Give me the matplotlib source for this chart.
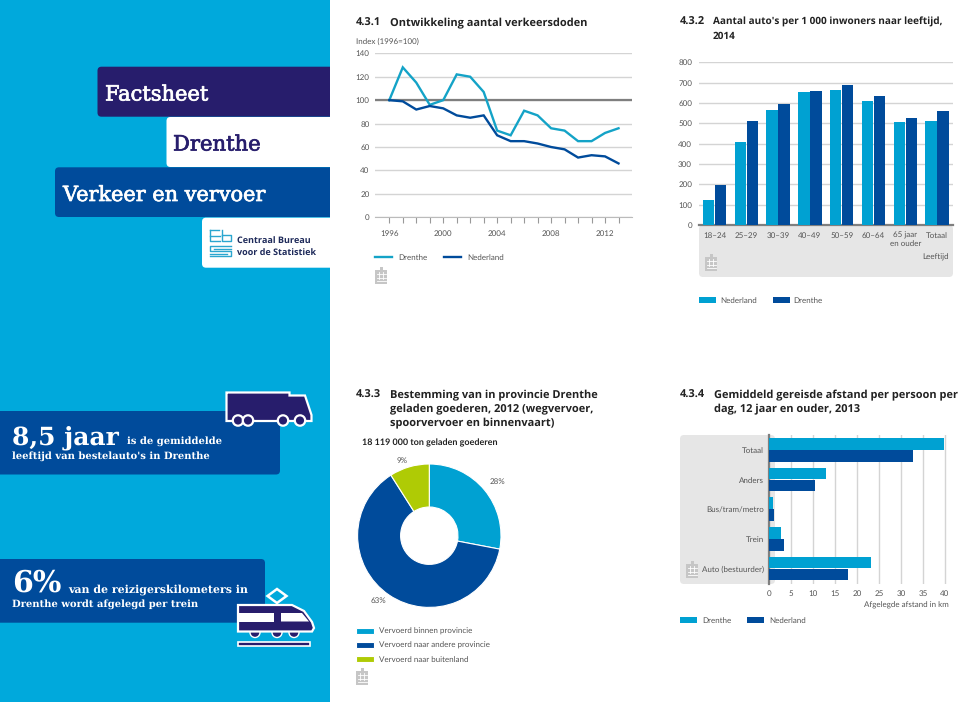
import matplotlib
matplotlib.use("Agg")
import matplotlib.pyplot as plt
import matplotlib.patheffects as pe
from matplotlib.patches import FancyBboxPatch, Rectangle, Polygon, Circle
from matplotlib.lines import Line2D

# ---------- data ----------
years = list(range(1996, 2014))
drenthe_index = [100, 128, 115, 96, 100, 122, 120, 107, 74, 70, 91, 87, 76, 74, 65, 65, 72, 76]
nederland_index = [100, 99, 92, 95, 93, 87, 85, 87, 70, 65, 65, 63, 60, 58, 51, 53, 52, 46]

age_labels = ["18–24", "25–29", "30–39", "40–49", "50–59", "60–64", "65 jaar\nen ouder", "Totaal"]
cars_nederland = [123, 407, 563, 655, 665, 611, 507, 510]
cars_drenthe = [195, 512, 595, 660, 688, 634, 524, 562]

dest_labels = ["Vervoerd binnen provincie", "Vervoerd naar andere provincie", "Vervoerd naar buitenland"]
dest_values = [28, 63, 9]

mode_labels = ["Totaal", "Anders", "Bus/tram/metro", "Trein", "Auto (bestuurder)"]
dist_drenthe = [39.7, 13.0, 0.8, 2.7, 23.2]
dist_nederland = [32.7, 10.4, 1.0, 3.4, 18.0]

# ---------- styles ----------
CYAN = "#00A1D2"
LINE_CYAN = "#14A3C7"
PANEL = "#00A9DC"
BLUE = "#004B9B"
NAVY = "#271D6C"
LIME = "#AFCB05"
GRID = "#D4D4D4"
AXIS = "#7F7F7F"
PALE = "#E6E6E6"
TXT = "#555555"
TITLE = "#222222"
SANS = "Lato"
HEAD = "Open Sans"
SLAB = "DejaVu Serif"
W, H = 960, 702
TS = 5.7      # chart small text
PX = TS * 100 / 72

plt.rcParams["font.family"] = SANS
plt.rcParams["text.hinting"] = "no_hinting"
plt.rcParams["text.hinting_factor"] = 1
fig = plt.figure(figsize=(W / 100, H / 100), dpi=100, facecolor="white")

bg = fig.add_axes([0, 0, 1, 1], zorder=0)
bg.set_xlim(0, W)
bg.set_ylim(H, 0)
bg.axis("off")


def make_axes(x0, y0, x1, y1):
    """Axes from pixel box (top-left origin)."""
    ax = fig.add_axes([x0 / W, 1 - y1 / H, (x1 - x0) / W, (y1 - y0) / H], zorder=2)
    ax.patch.set_alpha(0)
    return ax


def box(x0, y0, x1, y1, color, r=4, z=1):
    bg.add_patch(FancyBboxPatch((x0 + r, y0 + r), x1 - x0 - 2 * r, y1 - y0 - 2 * r,
                                boxstyle=f"round,pad={r},rounding_size={r}",
                                fc=color, ec="none", zorder=z))


def calc(x, y):
    c = "#C6C6C6"
    bg.add_patch(Rectangle((x, y + 3), 12, 14, fc=c, ec="none", zorder=3))
    bg.add_patch(Rectangle((x + 4.5, y), 3, 3, fc=c, ec="none", zorder=3))
    for yy in (y + 7, y + 10.5, y + 14):
        bg.add_line(Line2D([x + 1.5, x + 10.5], [yy, yy], color="white", lw=0.6, zorder=4))
    for xx in (x + 4, x + 8):
        bg.add_line(Line2D([xx, xx], [y + 5, y + 12], color="white", lw=0.6, zorder=4))


def slab(x, y, s, size, color="white", bold=False, stroke=0.0):
    t = bg.text(x, y, s, family=SLAB, weight="bold" if bold else "normal", color=color,
                fontsize=size, va="baseline", zorder=3)
    if stroke:
        t.set_path_effects([pe.withStroke(linewidth=stroke, foreground=color)])
    return t


# ---------- left panel ----------
bg.add_patch(Rectangle((0, 0), 329.5, H, fc=PANEL, ec="none", zorder=0))
box(97.5, 66.7, 345, 116.7, NAVY)
box(166.5, 117, 345, 167, "white")
box(55, 167.3, 345, 217, BLUE)
box(202, 217.7, 345, 267.7, "white")
box(-20, 411, 280, 474.5, BLUE)
box(-20, 559, 265, 622.7, BLUE)
bg.add_patch(Rectangle((329.5, 0), 40, H, fc="white", ec="none", zorder=1.5))

slab(105, 100.5, "Factsheet", 15.1, stroke=0.5)
slab(173, 150.5, "Drenthe", 15.2, color=NAVY, stroke=0.5)
slab(63, 201, "Verkeer en vervoer", 15, stroke=0.5)

# cbs logo
for seg in ([(210, 230), (210, 241), (220, 241)], [(210, 236), (220, 236)], [(210, 230), (219, 230)],
            [(222, 230), (222, 241), (231, 241), (231, 235), (222, 235)],
            [(231, 246), (210, 246), (210, 251), (231, 251), (231, 256), (210, 256)],
            [(214, 248.5), (231, 248.5)], [(210, 253.5), (227, 253.5)]):
    bg.add_line(Line2D([p[0] for p in seg], [p[1] for p in seg], color="#2BA6CF", lw=1.0, zorder=3))
bg.text(237, 241, "Centraal Bureau", family=HEAD, color="#1E2A5A", fontsize=6.8, weight="bold", va="center", zorder=3)
bg.text(237, 253, "voor de Statistiek", family=HEAD, color="#1E2A5A", fontsize=6.8, weight="bold", va="center", zorder=3)

slab(12, 444.5, "8,5 jaar", 17.8, bold=True)
slab(127, 444, "is de gemiddelde", 7.2, bold=True)
slab(12, 459, "leeftijd van bestelauto's in Drenthe", 7.3, bold=True)
slab(12, 592, "6%", 21.5, bold=True)
slab(68, 593, "van de reizigerskilometers in", 7.6, bold=True)
slab(12, 607, "Drenthe wordt afgelegd per trein", 7.5, bold=True)

# truck
bg.add_patch(Polygon([(227, 392.5), (289.5, 392.5), (289.5, 395.5), (305, 395.5), (311.5, 415), (311.5, 421),
                      (226.5, 421), (226.5, 392.5)], closed=True, fc=NAVY, ec="white", lw=1.6, zorder=3))
for cx in (238, 248, 283, 300):
    bg.add_patch(Circle((cx, 420.5), 5.2, fc=NAVY, ec="white", lw=1.6, zorder=4))

# train
bg.add_patch(Polygon([(238, 605), (292, 605), (304, 611), (312, 622), (314, 628), (312, 631.5),
                      (238, 631.5)], closed=True, fc=NAVY, ec="white", lw=1.6, zorder=3))
bg.add_patch(Rectangle((238, 613), 36, 8.5, fc="white", ec="none", zorder=4))
bg.add_patch(Polygon([(281, 613), (302, 613), (309, 621.5), (281, 621.5)], closed=True, fc="white", ec="none", zorder=4))
for cx in (255, 277, 294):
    bg.add_patch(Circle((cx, 632.5), 5, fc=NAVY, ec="white", lw=1.0, zorder=2.8))
bg.add_patch(Rectangle((238, 641.5), 72, 4.5, fc=NAVY, ec="white", lw=1.2, zorder=3))
bg.add_patch(Polygon([(277, 589), (286.5, 596), (277, 603), (267.5, 596)], closed=True,
                     fc=PANEL, ec="white", lw=1.8, zorder=3))


def title(x, tab, y, number, lines, size=8.2):
    bg.text(x, y, number, family=HEAD, color=TITLE, fontsize=8.2, weight="bold", va="baseline", zorder=3)
    for i, line in enumerate(lines):
        bg.text(tab, y + i * 14, line, family=HEAD, color=TITLE, fontsize=size, weight="bold", va="baseline", zorder=3)


def style(ax):
    for s in ax.spines.values():
        s.set_visible(False)
    ax.set_axisbelow(True)


def legend_prop():
    return {"size": TS, "family": SANS}


# ---------- 4.3.1 ----------
title(356, 390, 26, "4.3.1", ["Ontwikkeling aantal verkeersdoden"])
bg.text(356, 41.5, "Index (1996=100)", color=TXT, fontsize=TS, va="center", zorder=3)
ax1 = make_axes(375, 53.3, 632, 217.3)
ax1.plot(years, drenthe_index, color=LINE_CYAN, lw=1.7, label="Drenthe", solid_joinstyle="miter", zorder=4)
ax1.plot(years, nederland_index, color=BLUE, lw=1.7, label="Nederland", solid_joinstyle="miter", zorder=4)
ax1.set_xlim(1994.94, 2014)
ax1.set_ylim(0, 140)
ax1.set_yticks(range(0, 141, 20))
ax1.set_xticks(years)
ax1.set_xticklabels([str(y) if (y - 1996) % 4 == 0 else "" for y in years])
ax1.grid(axis="y", color=GRID, lw=1.0)
ax1.axhline(100, color=AXIS, lw=1.6, zorder=3)
style(ax1)
ax1.spines["bottom"].set_visible(True)
ax1.spines["bottom"].set_color("#BBBBBB")
ax1.tick_params(axis="y", length=0, pad=4, labelsize=TS, labelcolor=TXT)
ax1.tick_params(axis="x", length=4, width=0.8, color="#999999", pad=5, labelsize=TS, labelcolor=TXT)
ax1.legend(loc="upper left", bbox_to_anchor=(375 / W, 1 - 254 / H), bbox_transform=fig.transFigure,
           frameon=False, ncol=2, borderpad=0, borderaxespad=0, handlelength=17 / PX, handletextpad=6 / PX,
           columnspacing=17 / PX, prop=legend_prop(), labelcolor=TXT)
calc(375, 267)

# ---------- 4.3.2 ----------
title(680, 713, 25, "4.3.2", ["Aantal auto's per 1 000 inwoners naar leeftijd,", "2014"], size=7.45)
box(699, 225, 953, 277, PALE)
ax2 = make_axes(699, 62.3, 953, 225)
xpos = list(range(len(age_labels)))
ax2.bar([p - 0.19 for p in xpos], cars_nederland, width=0.36, color=CYAN, label="Nederland", zorder=3)
ax2.bar([p + 0.19 for p in xpos], cars_drenthe, width=0.36, color=BLUE, label="Drenthe", zorder=3)
ax2.set_xlim(-0.487, 7.5)
ax2.set_ylim(0, 800)
ax2.set_yticks(range(0, 801, 100))
ax2.set_xticks(xpos)
ax2.set_xticklabels(age_labels, linespacing=1.2)
ax2.grid(axis="y", color=GRID, lw=1.0)
style(ax2)
ax2.spines["bottom"].set_visible(True)
ax2.spines["bottom"].set_color(AXIS)
ax2.spines["bottom"].set_linewidth(1.6)
ax2.tick_params(axis="y", length=0, pad=5, labelsize=TS, labelcolor=TXT)
ax2.tick_params(axis="x", length=0, pad=5, labelsize=TS, labelcolor=TXT)
bg.text(949, 257, "Leeftijd", color=TXT, fontsize=TS, ha="right", va="center", zorder=3)
ax2.legend(loc="upper left", bbox_to_anchor=(699 / W, 1 - 297 / H), bbox_transform=fig.transFigure,
           frameon=False, ncol=2, borderpad=0, borderaxespad=0, handlelength=17 / PX, handleheight=0.75,
           handletextpad=4 / PX, columnspacing=16 / PX, prop=legend_prop(), labelcolor=TXT)
calc(705, 254)

# ---------- 4.3.3 ----------
title(356, 390, 398, "4.3.3", ["Bestemming van in provincie Drenthe", "geladen goederen, 2012 (wegvervoer,",
                               "spoorvervoer en binnenvaart)"])
bg.text(362, 443, "18 119 000 ton geladen goederen", color=TITLE, fontsize=6.6, weight="bold", va="center", zorder=3)
ax3 = make_axes(357.6, 464, 501, 607.4)
wedges, _ = ax3.pie(dest_values, colors=[CYAN, BLUE, LIME], startangle=90, counterclock=False, radius=1,
                    wedgeprops={"width": 0.6, "edgecolor": "white", "linewidth": 0.8},
                    labels=dest_labels, labeldistance=None)
ax3.set_xlim(-1, 1)
ax3.set_ylim(-1, 1)
for (px, py), v in zip([(497, 482), (378, 601), (402, 461)], dest_values):
    bg.text(px, py, f"{v}%", color=TXT, fontsize=TS, ha="center", va="center", zorder=3)
ax3.legend(wedges, dest_labels, loc="upper left", bbox_to_anchor=(356 / W, 1 - 627.5 / H),
           bbox_transform=fig.transFigure, frameon=False, borderpad=0, borderaxespad=0, handlelength=18 / PX,
           handleheight=0.8, handletextpad=5 / PX, labelspacing=0.9, prop=legend_prop(),
           labelcolor=TXT)
calc(356, 668)

# ---------- 4.3.4 ----------
title(680, 714, 398, "4.3.4", ["Gemiddeld gereisde afstand per persoon per", "dag, 12 jaar en ouder, 2013"], size=7.97)
box(680, 435, 775, 584, PALE)
ax4 = make_axes(769.3, 435, 948, 584)
ypos = list(range(len(mode_labels)))
ax4.barh([p - 0.2 for p in ypos], dist_drenthe, height=0.39, color=CYAN, label="Drenthe", zorder=3)
ax4.barh([p + 0.2 for p in ypos], dist_nederland, height=0.39, color=BLUE, label="Nederland", zorder=3)
ax4.set_xlim(0, 40.7)
ax4.set_ylim(4.52, -0.5)
ax4.set_xticks(range(0, 41, 5))
ax4.set_yticks(ypos)
ax4.set_yticklabels(mode_labels)
ax4.grid(axis="x", color=GRID, lw=1.0)
style(ax4)
ax4.spines["left"].set_visible(True)
ax4.spines["left"].set_color(AXIS)
ax4.spines["left"].set_linewidth(1.6)
ax4.tick_params(axis="y", length=0, pad=4, labelsize=TS, labelcolor=TXT)
ax4.tick_params(axis="x", length=0, pad=4, labelsize=TS, labelcolor=TXT)
bg.add_patch(Rectangle((775, 435), 180, 150, fc="white", ec="none", zorder=1.2))
bg.text(949, 605, "Afgelegde afstand in km", color=TXT, fontsize=TS, ha="right", va="center", zorder=3)
ax4.legend(loc="upper left", bbox_to_anchor=(680 / W, 1 - 617 / H), bbox_transform=fig.transFigure,
           frameon=False, ncol=2, borderpad=0, borderaxespad=0, handlelength=17 / PX, handleheight=0.75,
           handletextpad=5 / PX, columnspacing=16 / PX, prop=legend_prop(), labelcolor=TXT)
calc(686, 561)

fig.savefig("out.png", dpi=100, facecolor="white")
